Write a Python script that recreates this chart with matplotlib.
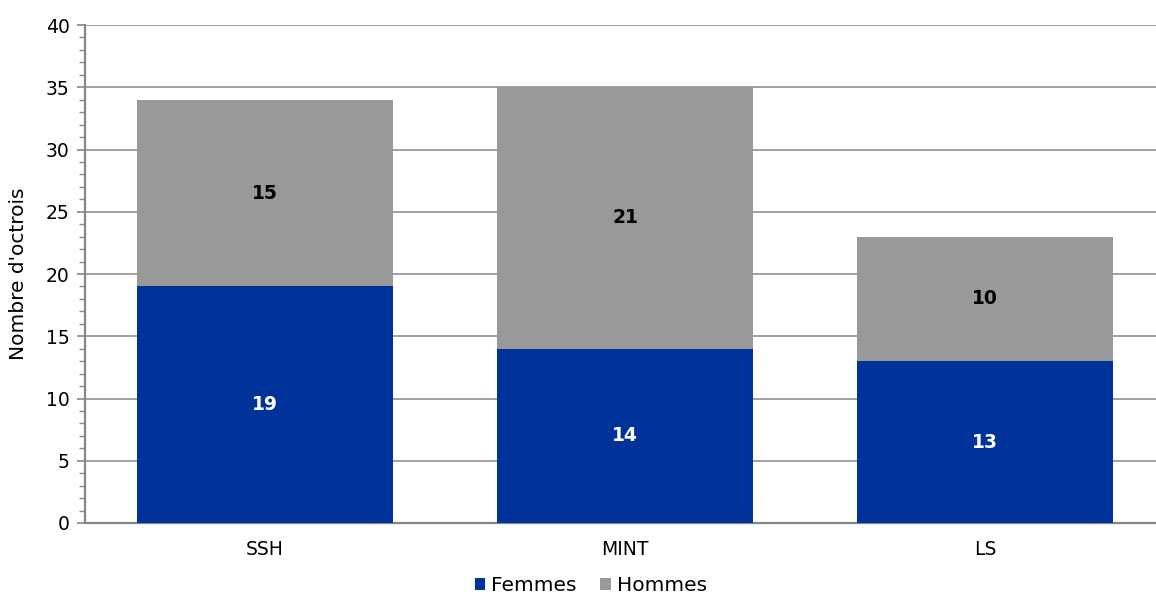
import matplotlib.pyplot as plt
from matplotlib.ticker import MultipleLocator

categories = ["SSH", "MINT", "LS"]
femmes = [19, 14, 13]
hommes = [15, 21, 10]

blue = "#003399"
grey = "#999999"
axis_col = "#868686"

plt.rcParams["font.family"] = ["DejaVu Sans"]

fig = plt.figure(figsize=(11.56, 6.06), dpi=100)
ax = fig.add_axes([85 / 1156, 83 / 606, 1071 / 1156, 498 / 606])

x = range(len(categories))
b1 = ax.bar(x, femmes, width=0.71, color=blue, label="Femmes", zorder=3)
b2 = ax.bar(x, hommes, width=0.71, bottom=femmes, color=grey, label="Hommes", zorder=3)

for rect, v in zip(b1, femmes):
    ax.text(rect.get_x() + rect.get_width() / 2, rect.get_y() + rect.get_height() / 2,
            str(v), ha="center", va="center", color="white", fontsize=13.5, fontweight="bold", zorder=4)
for rect, v in zip(b2, hommes):
    ax.text(rect.get_x() + rect.get_width() / 2, rect.get_y() + rect.get_height() / 2,
            str(v), ha="center", va="center", color="black", fontsize=13.5, fontweight="bold", zorder=4)

ax.set_xlim(-0.5, 2.475)
ax.set_ylim(0, 40)
ax.yaxis.set_major_locator(MultipleLocator(5))
ax.yaxis.set_minor_locator(MultipleLocator(1))
ax.grid(axis="y", which="major", color=axis_col, linewidth=1.1, zorder=0)
ax.set_axisbelow(True)

ax.set_xticks(list(x))
ax.set_xticklabels(categories, fontsize=13.5)
ax.tick_params(axis="x", length=0, pad=12)
ax.tick_params(axis="y", which="major", length=6, width=1.2, color=axis_col, labelsize=13.5, pad=5)
ax.tick_params(axis="y", which="minor", length=4, width=1.0, color=axis_col)

for s in ["top", "right"]:
    ax.spines[s].set_visible(False)
for s in ["left", "bottom"]:
    ax.spines[s].set_color(axis_col)
    ax.spines[s].set_linewidth(1.6)

ax.set_ylabel("Nombre d'octrois", fontsize=14.5)
ax.yaxis.set_label_coords(-0.053, 0.5)

fig.legend(handles=[b1, b2], loc="lower center", bbox_to_anchor=(0.511, -0.012), ncol=2,
           frameon=False, fontsize=14.5, handlelength=0.5, handleheight=0.5,
           handletextpad=0.3, columnspacing=1.2)

fig.savefig("out.png", dpi=100)
